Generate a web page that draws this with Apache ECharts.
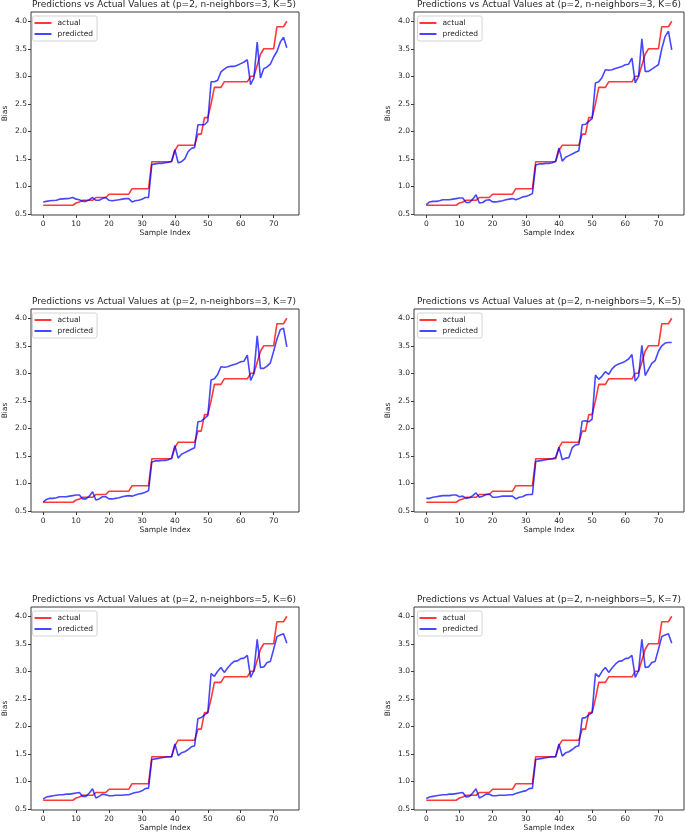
<!DOCTYPE html>
<html>
<head>
<meta charset="utf-8">
<script src="https://cdn.jsdelivr.net/npm/echarts@6/dist/echarts.min.js"></script>
<style>
    html, body { margin: 0; padding: 0; background: #fff; }
    #main { width: 685px; height: 834px; }
</style>
</head>
<body>
<div id="main"></div>
<script>
// actual bias of the test samples (same in every panel)
var actual = [
    0.66, 0.66, 0.66, 0.66, 0.66, 0.66, 0.66, 0.66, 0.66, 0.66,
    0.70, 0.72, 0.75, 0.75, 0.75, 0.75, 0.80, 0.80, 0.80, 0.80,
    0.86, 0.86, 0.86, 0.86, 0.86, 0.86, 0.86, 0.96, 0.96, 0.96,
    0.96, 0.96, 0.96, 1.45, 1.45, 1.45, 1.45, 1.45, 1.45, 1.45,
    1.65, 1.75, 1.75, 1.75, 1.75, 1.75, 1.75, 1.95, 1.95, 2.25,
    2.25, 2.50, 2.80, 2.80, 2.80, 2.90, 2.90, 2.90, 2.90, 2.90,
    2.90, 2.90, 2.90, 3.00, 3.00, 3.20, 3.40, 3.50, 3.50, 3.50,
    3.50, 3.90, 3.90, 3.90, 4.00
];

// predictions, one list per panel
var predN3K5 = [
    0.72, 0.73, 0.74, 0.745, 0.75, 0.77, 0.775, 0.78, 0.785, 0.80,
    0.77, 0.76, 0.73, 0.73, 0.76, 0.80, 0.75, 0.75, 0.78, 0.80,
    0.75, 0.74, 0.75, 0.76, 0.77, 0.78, 0.78, 0.72, 0.74, 0.75,
    0.77, 0.80, 0.80, 1.40, 1.41, 1.42, 1.42, 1.43, 1.44, 1.46,
    1.67, 1.43, 1.45, 1.50, 1.63, 1.69, 1.71, 2.12, 2.12, 2.12,
    2.18, 2.90, 2.90, 2.93, 3.08, 3.13, 3.17, 3.18, 3.18, 3.20,
    3.23, 3.26, 3.30, 2.85, 2.97, 3.62, 2.97, 3.14, 3.17, 3.22,
    3.35, 3.45, 3.62, 3.71, 3.52
];
var predN3K6 = [
    0.67, 0.72, 0.73, 0.73, 0.74, 0.76, 0.76, 0.76, 0.77, 0.78,
    0.79, 0.79, 0.71, 0.71, 0.77, 0.85, 0.70, 0.71, 0.75, 0.76,
    0.72, 0.72, 0.73, 0.74, 0.76, 0.77, 0.78, 0.76, 0.78, 0.81,
    0.82, 0.84, 0.87, 1.39, 1.41, 1.41, 1.42, 1.42, 1.43, 1.46,
    1.70, 1.46, 1.53, 1.56, 1.59, 1.62, 1.65, 2.12, 2.13, 2.18,
    2.23, 2.88, 2.90, 2.98, 3.12, 3.11, 3.12, 3.14, 3.16, 3.18,
    3.21, 3.22, 3.33, 2.88, 3.00, 3.68, 3.09, 3.09, 3.13, 3.17,
    3.21, 3.50, 3.72, 3.82, 3.48
];
var predN3K7 = [
    0.66, 0.71, 0.73, 0.73, 0.74, 0.76, 0.76, 0.76, 0.77, 0.78,
    0.79, 0.79, 0.72, 0.72, 0.77, 0.85, 0.70, 0.72, 0.76, 0.76,
    0.72, 0.72, 0.73, 0.74, 0.76, 0.77, 0.78, 0.77, 0.79, 0.81,
    0.82, 0.84, 0.87, 1.39, 1.41, 1.41, 1.42, 1.42, 1.43, 1.46,
    1.69, 1.46, 1.53, 1.56, 1.59, 1.62, 1.65, 2.12, 2.13, 2.18,
    2.23, 2.88, 2.90, 2.98, 3.12, 3.11, 3.12, 3.14, 3.16, 3.18,
    3.21, 3.22, 3.33, 2.87, 3.00, 3.68, 3.09, 3.09, 3.13, 3.19,
    3.40, 3.62, 3.79, 3.82, 3.48
];
var predN5K5 = [
    0.73, 0.73, 0.75, 0.76, 0.77, 0.78, 0.78, 0.78, 0.79, 0.79,
    0.76, 0.77, 0.73, 0.74, 0.78, 0.83, 0.75, 0.77, 0.80, 0.81,
    0.75, 0.75, 0.76, 0.77, 0.77, 0.77, 0.77, 0.72, 0.75, 0.76,
    0.79, 0.80, 0.80, 1.40, 1.41, 1.42, 1.43, 1.44, 1.45, 1.47,
    1.66, 1.43, 1.46, 1.47, 1.65, 1.70, 1.71, 2.13, 2.14, 2.12,
    2.17, 2.97, 2.89, 2.95, 3.03, 2.98, 3.08, 3.14, 3.17, 3.19,
    3.22, 3.26, 3.34, 2.86, 2.94, 3.51, 2.96, 3.07, 3.18, 3.23,
    3.40, 3.50, 3.55, 3.56, 3.56
];
var predN5K6 = [
    0.68, 0.72, 0.73, 0.74, 0.75, 0.76, 0.76, 0.77, 0.77, 0.78,
    0.79, 0.80, 0.73, 0.73, 0.79, 0.87, 0.70, 0.73, 0.77, 0.76,
    0.74, 0.74, 0.75, 0.75, 0.75, 0.76, 0.76, 0.78, 0.80, 0.81,
    0.83, 0.87, 0.88, 1.40, 1.41, 1.42, 1.43, 1.44, 1.45, 1.45,
    1.68, 1.47, 1.52, 1.54, 1.58, 1.63, 1.65, 2.14, 2.16, 2.21,
    2.25, 2.96, 2.91, 3.00, 3.07, 2.98, 3.06, 3.13, 3.18, 3.19,
    3.23, 3.24, 3.29, 2.89, 3.01, 3.58, 3.07, 3.08, 3.16, 3.18,
    3.40, 3.63, 3.66, 3.68, 3.51
];
var predN5K7 = [
    0.69, 0.72, 0.73, 0.74, 0.75, 0.76, 0.76, 0.77, 0.77, 0.78,
    0.79, 0.80, 0.72, 0.73, 0.79, 0.87, 0.70, 0.73, 0.77, 0.77,
    0.74, 0.74, 0.75, 0.75, 0.75, 0.76, 0.76, 0.78, 0.80, 0.82,
    0.83, 0.87, 0.88, 1.40, 1.41, 1.42, 1.43, 1.44, 1.45, 1.45,
    1.68, 1.46, 1.52, 1.54, 1.58, 1.63, 1.65, 2.15, 2.16, 2.21,
    2.25, 2.96, 2.90, 3.00, 3.07, 2.98, 3.06, 3.13, 3.18, 3.19,
    3.23, 3.24, 3.29, 2.89, 3.01, 3.58, 3.07, 3.08, 3.16, 3.18,
    3.40, 3.63, 3.66, 3.68, 3.51
];

var predictions = [predN3K5, predN3K6, predN3K7, predN5K5, predN5K6, predN5K7];

var panelTitles = [
    'Predictions vs Actual Values at (p=2, n-neighbors=3, K=5)',
    'Predictions vs Actual Values at (p=2, n-neighbors=3, K=6)',
    'Predictions vs Actual Values at (p=2, n-neighbors=3, K=7)',
    'Predictions vs Actual Values at (p=2, n-neighbors=5, K=5)',
    'Predictions vs Actual Values at (p=2, n-neighbors=5, K=6)',
    'Predictions vs Actual Values at (p=2, n-neighbors=5, K=7)'
];

var xTicks = [0, 10, 20, 30, 40, 50, 60, 70];
var yTicks = [0.5, 1.0, 1.5, 2.0, 2.5, 3.0, 3.5, 4.0];

(function () {
    "use strict";

    var FONT = 'DejaVu Sans',
        TEXT = '#262626',
        FRAME = '#3a3a3a',
        colLeft = [29, 414],
        rowTop = [12, 309, 607],
        plotW = 270,
        plotH = 203,
        grid = [], xAxis = [], yAxis = [], series = [], title = [], legend = [],
        k, left, top,

        // [index, value] pairs for a value x axis
        toPairs = function (list) {
            var out = [], i;
            for (i = 0; i < list.length; i++) {
                out.push([i, list[i]]);
            }
            return out;
        };

    for (k = 0; k < 6; k++) {
        left = colLeft[k % 2];
        top = rowTop[Math.floor(k / 2)];

        grid.push({
            left: left, top: top, width: plotW, height: plotH,
            show: true, borderColor: FRAME, borderWidth: 1
        });

        title.push({
            text: panelTitles[k],
            left: left + plotW / 2,
            top: Math.max(0, top - 12),
            textAlign: 'center',
            padding: 0,
            textStyle: {fontSize: 9, fontWeight: 'normal', color: TEXT, fontFamily: FONT}
        });

        legend.push({
            orient: 'vertical',
            left: left + 3.5,
            top: top + 4,
            data: ['actual', 'predicted'],
            icon: 'rect',
            itemWidth: 17,
            itemHeight: 2,
            itemGap: 3,
            padding: [3, 4, 3, 2],
            borderColor: '#d4d4d4',
            borderWidth: 1,
            borderRadius: 2,
            backgroundColor: 'rgba(255,255,255,0.8)',
            selectedMode: false,
            textStyle: {fontSize: 7.5, color: TEXT, fontFamily: FONT, padding: [0, 0, 0, 1]}
        });

        xAxis.push({
            type: 'value', gridIndex: k, min: -3.7, max: 77.7,
            name: 'Sample Index', nameLocation: 'middle', nameGap: 14,
            nameTextStyle: {fontSize: 7.5, color: TEXT, fontFamily: FONT},
            axisLine: {show: false, onZero: false},
            axisTick: {show: true, customValues: xTicks, length: 3, lineStyle: {color: FRAME}},
            axisLabel: {customValues: xTicks, fontSize: 7.5, color: TEXT, fontFamily: FONT, margin: 5},
            splitLine: {show: false}
        });

        yAxis.push({
            type: 'value', gridIndex: k, min: 0.4825, max: 4.1675,
            name: 'Bias', nameLocation: 'middle', nameGap: 22,
            nameTextStyle: {fontSize: 7.5, color: TEXT, fontFamily: FONT},
            axisLine: {show: false, onZero: false},
            axisTick: {show: true, customValues: yTicks, length: 3, lineStyle: {color: FRAME}},
            axisLabel: {
                customValues: yTicks, fontSize: 7.5, color: TEXT, fontFamily: FONT, margin: 4,
                formatter: function (v) { return v.toFixed(1); }
            },
            splitLine: {show: false}
        });

        series.push({
            type: 'line', name: 'actual', xAxisIndex: k, yAxisIndex: k,
            data: toPairs(actual), symbol: 'none', showSymbol: false,
            color: 'rgba(255,0,0,0.78)', lineStyle: {width: 1.6}
        });
        series.push({
            type: 'line', name: 'predicted', xAxisIndex: k, yAxisIndex: k,
            data: toPairs(predictions[k]), symbol: 'none', showSymbol: false,
            color: 'rgba(0,0,255,0.72)', lineStyle: {width: 1.6}
        });
    }

    var chart = echarts.init(document.getElementById('main'), null, {renderer: 'canvas'});
    chart.setOption({
        backgroundColor: '#fff',
        animation: false,
        title: title,
        legend: legend,
        grid: grid,
        xAxis: xAxis,
        yAxis: yAxis,
        series: series
    });
})();
</script>
</body>
</html>
